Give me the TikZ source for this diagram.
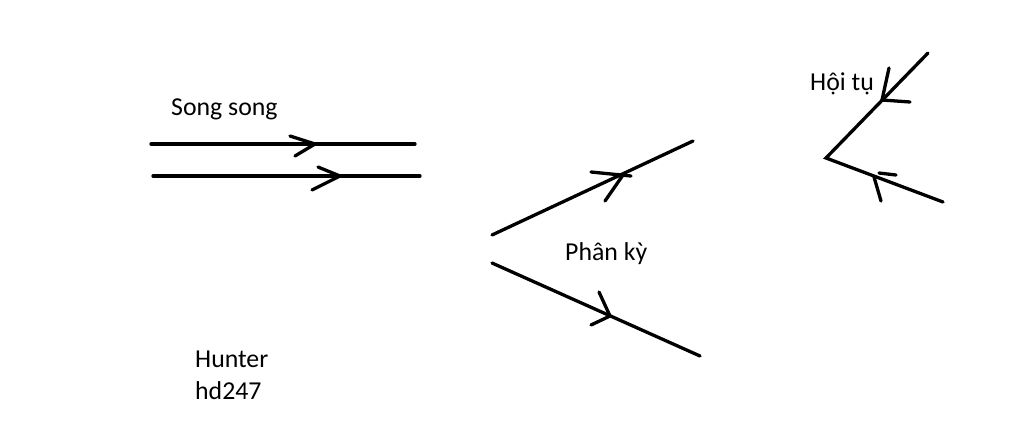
\documentclass[tikz,border=0pt]{standalone}
\usepackage{fontspec}
\setmainfont{Carlito}
\begin{document}
\begin{tikzpicture}[
    x=1pt, y=-1pt,
    ray/.style={line width=3.3pt, line cap=round},
    barb/.style={line width=3.3pt, line cap=round},
    lbl/.style={anchor=base west, inner sep=0pt, font=\fontsize{25.8}{31}\selectfont}
]
\useasboundingbox (0,0) rectangle (1024,442);

% song song
\coordinate (s1a) at (151,144);
\coordinate (s1b) at (415,144);
\coordinate (s1t) at (315,144);
\coordinate (s2a) at (153,176);
\coordinate (s2b) at (420,176);
\coordinate (s2t) at (340,176);
\draw [ray] (s1a) -- (s1b);
\draw [ray] (s2a) -- (s2b);
\draw [barb] (290,136) -- (s1t) -- (295,156);
\draw [barb] (318,167) -- (s2t) -- (312,190);
\node (song) [lbl] at (171,115) {Song song};

% phan ky
\coordinate (p1a) at (492,235);
\coordinate (p1b) at (693,141);
\coordinate (p1t) at (623,175);
\coordinate (p2a) at (492,263);
\coordinate (p2b) at (700,356);
\coordinate (p2t) at (610,316);
\draw [ray] (p1a) -- (p1b);
\draw [ray] (p2a) -- (p2b);
\draw [barb] (591,172) -- (631,176);
\draw [barb] (p1t) -- (605,201);
\draw [barb] (599,292) -- (p2t) -- (591,325);
\node (phan) [lbl] at (565,260) {Phân kỳ};

% hoi tu
\coordinate (h1) at (928,53);
\coordinate (hv) at (826,158);
\coordinate (h2) at (943,202);
\coordinate (h1t) at (882,100);
\coordinate (h2t) at (874,177);
\draw [ray] (h1) -- (hv) -- (h2);
\draw [barb] (889,68) -- (h1t) -- (910,102);
\draw [barb] (h2t) -- (881,201);
\draw [barb] (879,173) -- (896,175);
\node (hoi) [lbl] at (810,90) {Hội tụ};

% ky ten
\node (hunter) [lbl] at (195,367) {Hunter};
\node (hd) [lbl] at (195,399) {hd247};
\end{tikzpicture}
\end{document}
